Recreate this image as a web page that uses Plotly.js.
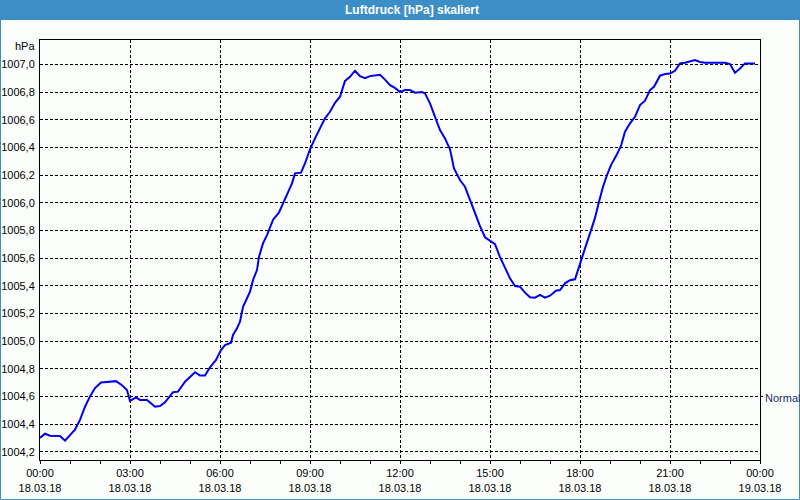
<!DOCTYPE html>
<html>
<head>
<meta charset="utf-8">
<script src="https://cdn.plot.ly/plotly-3.0.1.min.js"></script>
<style>html,body{margin:0;padding:0;background:#fcfefc;}#chart{width:800px;height:500px;}</style>
</head>
<body>
<div id="chart"></div>
<script>
// Time of day on 18.03.2018 (HH:MM)
const times = ["00:00","00:10","00:20","00:30","00:40","00:50","00:58","01:10","01:20","01:30",
"01:40","01:50","02:02","02:14","02:26","02:32","02:44","02:54","03:00","03:12",
"03:20","03:34","03:50","04:00","04:10","04:26","04:36","04:50","05:10","05:20",
"05:30","05:40","05:52","06:02","06:10","06:22","06:26","06:34","06:40","06:46",
"06:54","07:00","07:06","07:14","07:18","07:26","07:34","07:40","07:46","07:58",
"08:06","08:14","08:24","08:30","08:42","08:50","09:00","09:10","09:20","09:30",
"09:40","09:50","10:00","10:10","10:20","10:30","10:40","10:50","11:00","11:10",
"11:20","11:30","11:40","11:50","12:00","12:10","12:20","12:30","12:44","12:50",
"13:00","13:10","13:20","13:30","13:40","13:48","14:00","14:10","14:20","14:30",
"14:40","14:50","15:00","15:10","15:20","15:30","15:40","15:50","16:00","16:10",
"16:20","16:30","16:40","16:50","17:00","17:12","17:20","17:30","17:40","17:50",
"18:00","18:10","18:20","18:30","18:38","18:46","18:54","19:02","19:12","19:22",
"19:30","19:40","19:50","20:00","20:10","20:20","20:28","20:40","20:50","21:00",
"21:10","21:20","21:30","21:40","21:50","22:00","22:10","22:30","22:50","23:00",
"23:10","23:20","23:30","23:50"];
const pressure = [1004.30,1004.33,1004.315,1004.313,1004.313,1004.28,1004.31,1004.36,1004.43,1004.525,
1004.60,1004.66,1004.70,1004.705,1004.706,1004.71,1004.68,1004.646,1004.567,1004.593,
1004.574,1004.574,1004.525,1004.53,1004.557,1004.63,1004.634,1004.706,1004.774,1004.75,
1004.75,1004.81,1004.863,1004.935,1004.971,1004.988,1005.044,1005.092,1005.14,1005.248,
1005.309,1005.356,1005.44,1005.513,1005.609,1005.706,1005.766,1005.826,1005.875,1005.93,
1005.995,1006.068,1006.14,1006.212,1006.217,1006.284,1006.386,1006.465,1006.537,1006.61,
1006.657,1006.722,1006.766,1006.88,1006.91,1006.954,1006.915,1006.90,1006.915,1006.918,
1006.925,1006.89,1006.85,1006.83,1006.80,1006.814,1006.814,1006.795,1006.80,1006.79,
1006.718,1006.62,1006.525,1006.465,1006.386,1006.248,1006.164,1006.115,1006.02,1005.91,
1005.83,1005.75,1005.722,1005.70,1005.607,1005.526,1005.453,1005.398,1005.393,1005.35,
1005.316,1005.313,1005.333,1005.313,1005.328,1005.364,1005.369,1005.417,1005.44,1005.446,
1005.55,1005.67,1005.778,1005.89,1006.007,1006.115,1006.20,1006.272,1006.337,1006.41,
1006.513,1006.574,1006.621,1006.706,1006.737,1006.814,1006.838,1006.918,1006.93,1006.933,
1006.953,1007.007,1007.012,1007.019,1007.031,1007.017,1007.012,1007.012,1007.012,1007.002,
1006.94,1006.97,1007.007,1007.007];

const xTickVals = ["2018-03-18 00:00","2018-03-18 03:00","2018-03-18 06:00","2018-03-18 09:00","2018-03-18 12:00","2018-03-18 15:00","2018-03-18 18:00","2018-03-18 21:00","2018-03-19 00:00"];
const xTickText = ["00:00<br>18.03.18","03:00<br>18.03.18","06:00<br>18.03.18","09:00<br>18.03.18","12:00<br>18.03.18","15:00<br>18.03.18","18:00<br>18.03.18","21:00<br>18.03.18","00:00<br>19.03.18"];
const yTickVals = [1004.2,1004.4,1004.6,1004.8,1005.0,1005.2,1005.4,1005.6,1005.8,1006.0,1006.2,1006.4,1006.6,1006.8,1007.0];
const yTickText = ["1004,2","1004,4","1004,6","1004,8","1005,0","1005,2","1005,4","1005,6","1005,8","1006,0","1006,2","1006,4","1006,6","1006,8","1007,0"];

const FONT = "Liberation Sans, Arial, sans-serif";
const L = 40, R = 40, T = 40, B = 40, W = 800, H = 500;
const PW = W - L - R, PH = H - T - B;
const px = v => (v - L) / PW;          // pixel x -> paper
const py = v => (H - B - v) / PH;      // pixel y -> paper

const trace = {
  x: times.map(t => "2018-03-18 " + t),
  y: pressure,
  type: "scatter",
  mode: "lines",
  line: {color: "#0000ee", width: 2},
  hoverinfo: "skip"
};

const layout = {
  width: W, height: H,
  margin: {l: L, r: R, t: T, b: B, pad: 0},
  paper_bgcolor: "#fcfefc",
  plot_bgcolor: "#fcfefc",
  showlegend: false,
  font: {family: FONT, size: 11, color: "#000"},
  title: {
    text: "<b>Luftdruck [hPa] skaliert</b>",
    font: {family: FONT, size: 12, color: "#ffffff"},
    x: 412 / W, xanchor: "center", xref: "container",
    y: 1 - 10 / H, yanchor: "middle", yref: "container"
  },
  xaxis: {
    type: "date",
    range: ["2018-03-18 00:00", "2018-03-19 00:00"],
    tickmode: "array", tickvals: xTickVals, ticktext: xTickText,
    ticks: "outside", ticklen: 3, tickcolor: "#000", tickwidth: 1,
    showgrid: true, gridcolor: "#000", gridwidth: 1, griddash: "3px,2px",
    showline: true, linecolor: "#000", linewidth: 1, mirror: true,
    zeroline: false,
    minor: {dtick: 3600000, ticks: "outside", ticklen: 3, tickcolor: "#000", showgrid: false},
    tickfont: {family: FONT, size: 11, color: "#000"},
    fixedrange: true
  },
  yaxis: {
    range: [1004.14, 1007.176],
    tickmode: "array", tickvals: yTickVals, ticktext: yTickText,
    ticks: "", showgrid: true, gridcolor: "#000", gridwidth: 1, griddash: "3px,2px",
    showline: true, linecolor: "#000", linewidth: 1, mirror: true,
    zeroline: false,
    tickfont: {family: FONT, size: 11, color: "#000"},
    ticklabelstandoff: 2,
    fixedrange: true
  },
  shapes: [
    {type: "rect", xref: "paper", yref: "paper", layer: "below",
     x0: px(0), x1: px(800), y0: py(20), y1: py(0),
     fillcolor: "#3c8fc6", line: {width: 0}},
    {type: "rect", xref: "paper", yref: "paper", layer: "below",
     x0: px(0.5), x1: px(799.5), y0: py(499.5), y1: py(19),
     fillcolor: "rgba(0,0,0,0)", line: {color: "#3c8fc6", width: 1}},
    {type: "line", xref: "paper", yref: "y",
     x0: 1, x1: px(763), y0: 1004.6, y1: 1004.6,
     line: {color: "#000", width: 1}}
  ],
  annotations: [
    {text: "hPa", xref: "paper", yref: "paper", x: px(37), y: py(46),
     xanchor: "right", yanchor: "middle", showarrow: false,
     font: {family: FONT, size: 11, color: "#000"}},
    {text: "Normal", xref: "paper", yref: "y", x: px(763), y: 1004.59,
     xanchor: "left", yanchor: "middle", showarrow: false,
     font: {family: FONT, size: 11, color: "#1a2a6a"}}
  ]
};

Plotly.newPlot("chart", [trace], layout, {displayModeBar: false, staticPlot: true});
</script>
</body>
</html>
